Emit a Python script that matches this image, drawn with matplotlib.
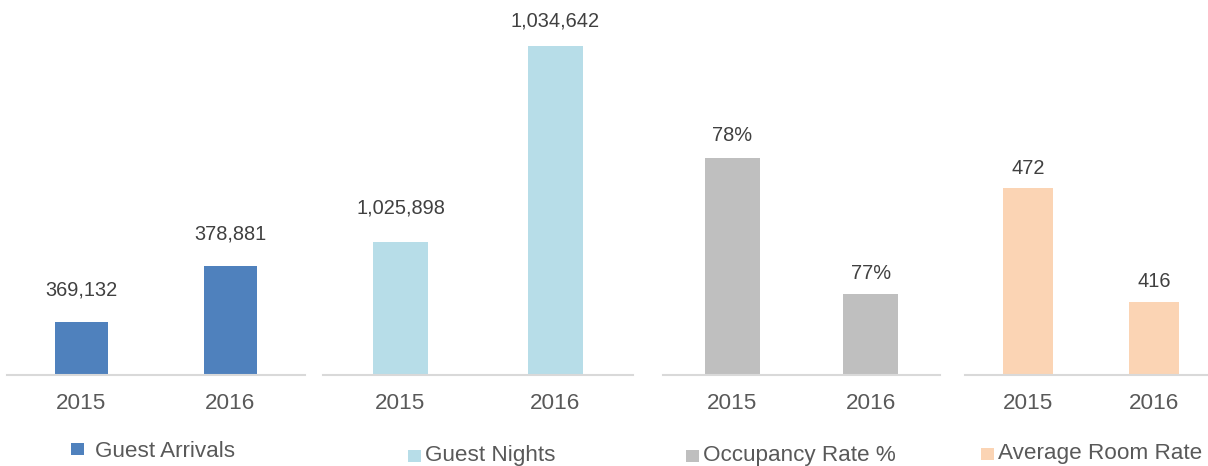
import matplotlib
matplotlib.use("Agg")
import matplotlib.pyplot as plt
from matplotlib.patches import Rectangle

plt.rcParams['font.family'] = ['Liberation Sans', 'DejaVu Sans']

years = ["2015", "2016"]
guest_arrivals = [369132, 378881]
guest_nights = [1025898, 1034642]
occupancy_rate = [78, 77]
average_room_rate = [472, 416]
series_names = ["Guest Arrivals", "Guest Nights", "Occupancy Rate %", "Average Room Rate"]
colors = ["#4F81BD", "#B7DDE8", "#BFBFBF", "#FBD4B4"]

W, H = 1208, 466
fig = plt.figure(figsize=(W / 100, H / 100), dpi=100)

panels = [
    dict(vals=guest_arrivals, fmt=lambda v: f"{v:,}", x0=7, x1=305, bw=0.356,
         ylim=(360000, 421500), offs=[23, 23]),
    dict(vals=guest_nights, fmt=lambda v: f"{v:,}", x0=323, x1=633, bw=0.36,
         ylim=(1020000, 1035800), offs=[25, 18]),
    dict(vals=occupancy_rate, fmt=lambda v: f"{v}%", x0=663, x1=940, bw=0.4,
         ylim=(76.404, 79.014), offs=[16, 15]),
    dict(vals=average_room_rate, fmt=lambda v: f"{v}", x0=965, x1=1217, bw=0.4,
         ylim=(380, 555), offs=[14, 15]),
]
legend_pos = [  # marker x, marker bottom y, text x, text baseline y (pixels from top)
    (71, 455, 95, 457),
    (408, 462, 425, 461),
    (686, 462, 703, 461),
    (981, 460, 998, 459),
]

base_y = 375
top_y = 20
for i, p in enumerate(panels):
    ax = fig.add_axes([p["x0"] / W, (H - base_y) / H, (p["x1"] - p["x0"]) / W, (base_y - top_y) / H])
    xs = list(range(len(years)))
    ax.bar(xs, p["vals"], width=p["bw"], color=colors[i], zorder=2)
    ax.set_xlim(-0.5, 1.5)
    ax.set_ylim(*p["ylim"])
    for s in ["top", "left", "right"]:
        ax.spines[s].set_visible(False)
    ax.spines["bottom"].set_color("#D9D9D9")
    ax.spines["bottom"].set_linewidth(1.5)
    ax.set_yticks([])
    ax.set_xticks(xs)
    ax.set_xticklabels(years, fontsize=16.2, color="#595959")
    ax.tick_params(axis="x", length=0, pad=13)
    for x, v, o in zip(xs, p["vals"], p["offs"]):
        ax.annotate(p["fmt"](v), (x, v), xytext=(0, o), textcoords="offset points",
                    ha="center", va="center", fontsize=14.4, color="#404040",
                    annotation_clip=False)
    mx, my, tx, ty = legend_pos[i]
    sz = 12.5
    fig.patches.append(Rectangle((mx / W, (H - my) / H), sz / W, sz / H,
                                 transform=fig.transFigure, facecolor=colors[i],
                                 edgecolor="none"))
    fig.text(tx / W, (H - ty) / H, series_names[i], ha="left", va="baseline",
             fontsize=16.2, color="#595959")

fig.savefig("out.png", dpi=100)
